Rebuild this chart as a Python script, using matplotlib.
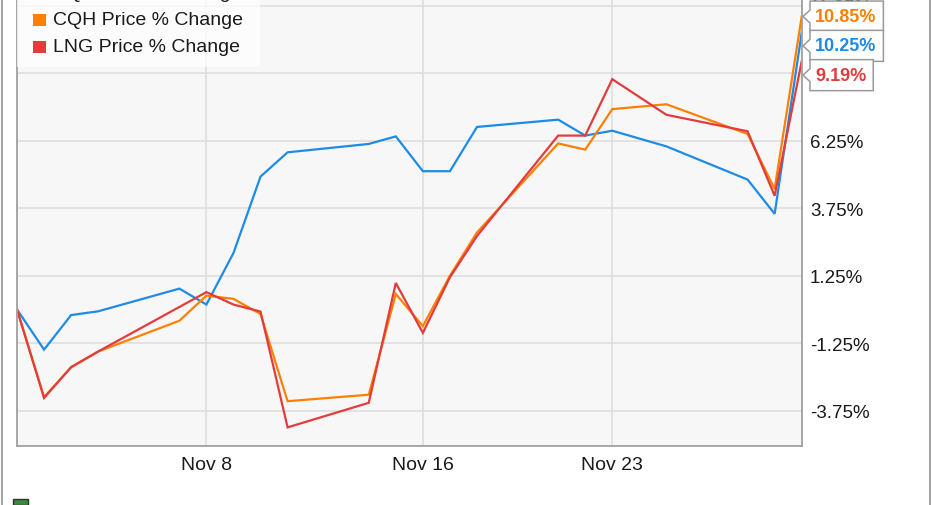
"""
Price % change of CQP, CQH and LNG over November 2016.
"""

import datetime as dt
import matplotlib.pyplot as plt
import matplotlib.dates as mdates
from matplotlib.path import Path
from matplotlib.patches import Rectangle
from matplotlib.lines import Line2D

# ###########################################################
# Data
# ###########################################################

days = [1, 2, 3, 4, 7, 8, 9, 10, 11, 14, 15, 16, 17, 18, 21, 22, 23, 25, 28, 29, 30]
dates = [dt.date(2016, 11, d) for d in days]

cqp = [0.00, -1.49, -0.21, -0.07, 0.77, 0.18, 2.09, 4.92, 5.82, 6.13, 6.41,
       5.12, 5.12, 6.76, 7.03, 6.44, 6.62, 6.04, 4.81, 3.54, 10.25]
cqh = [0.00, -3.25, -2.14, -1.56, -0.42, 0.51, 0.39, -0.17, -3.40, -3.16, 0.57,
       -0.62, 1.25, 2.85, 6.15, 5.92, 7.42, 7.60, 6.50, 4.46, 10.85]
lng = [0.00, -3.28, -2.14, -1.56, 0.09, 0.64, 0.18, -0.08, -4.37, -3.46, 0.98,
       -0.87, 1.19, 2.72, 6.44, 6.44, 8.53, 7.21, 6.60, 4.21, 9.19]

labels = ["CQP Price % Change", "CQH Price % Change", "LNG Price % Change"]
colors = ["#1e8be6", "#ff8000", "#e23c3c"]
series = [cqp, cqh, lng]

yticks = [-3.75, -1.25, 1.25, 3.75, 6.25, 8.75, 11.25]
xtick_dates = [dt.date(2016, 11, 8), dt.date(2016, 11, 16), dt.date(2016, 11, 23)]
xtick_labels = ["Nov 8", "Nov 16", "Nov 23"]

# ###########################################################
# Figure
# ###########################################################

W, H = 931, 506
plt.rcParams["font.family"] = ["Liberation Sans", "DejaVu Sans"]

fig = plt.figure(figsize=(W / 100, H / 100), dpi=100)
ax = fig.add_axes([17 / W, 59 / H, (801.7 - 17) / W, 1 - 59 / H])
ax.set_facecolor("#f7f7f7")

for vals, col in zip(series, colors):
    ax.plot(dates, vals, color=col, lw=1.6, solid_joinstyle="miter")

ax.set_xlim(dates[0], dates[-1])
ax.set_ylim(-5.06, 11.5)

# axes format
ax.yaxis.tick_right()
ax.set_yticks(yticks)
ax.set_yticklabels([f"{v:.2f}%" for v in yticks])
ax.set_xticks(xtick_dates)
ax.set_xticklabels(xtick_labels)
ax.tick_params(axis="y", length=0, pad=6, labelsize=13.5, colors="#1a1a1a")
ax.tick_params(axis="x", length=0, pad=7, labelsize=14, colors="#1a1a1a")
ax.grid(True, color="#dcdcdc", lw=1.1)
ax.set_axisbelow(True)
for side in ["left", "bottom", "right"]:
    ax.spines[side].set_color("#a0a0a0")
    ax.spines[side].set_linewidth(1.3)
ax.spines["top"].set_visible(False)

# ###########################################################
# Last value flags
# ###########################################################


def flag_box(x0, y0, width, height, mutation_size):
    pl, pr, pv, tip, half = 5, 7, 7, 12, 6.5
    x0, x1 = x0 - pl, x0 + width + pr
    y0, y1 = y0 - pv, y0 + height + pv
    yc = 0.5 * (y0 + y1)
    verts = [(x0, y0), (x1, y0), (x1, y1), (x0, y1), (x0, yc + half),
             (x0 - (tip - pl), yc), (x0, yc - half), (x0, y0)]
    return Path(verts, closed=True)


last_px = [ax.transData.transform((mdates.date2num(dates[-1]), s[-1]))[1] for s in series]
order = sorted(range(len(series)), key=lambda i: -series[i][-1])
prev = None
for i in order:
    ypx = last_px[i]
    if prev is not None:
        ypx = min(ypx, prev - 29.3)
    prev = ypx
    ax.annotate(f"{series[i][-1]:.2f}%", xy=(dates[-1], series[i][-1]),
                xytext=(13.3, ypx - last_px[i]), textcoords="offset pixels",
                ha="left", va="center", fontsize=13, fontweight="bold",
                color=colors[i], zorder=10, annotation_clip=False,
                bbox=dict(boxstyle=flag_box, fc="white", ec="#9a9a9a", lw=1.1))

# ###########################################################
# Legend (top rows clipped by the figure edge)
# ###########################################################

fig.add_artist(Rectangle((17 / W, 1 - 68 / H), 243 / W, 68 / H,
                         transform=fig.transFigure, fc="white", ec="none",
                         alpha=0.7, zorder=5))
for k, (lab, col) in enumerate(zip(labels, colors)):
    yc = -6.6 + 27.3 * k
    fig.add_artist(Rectangle((33 / W, 1 - (yc + 6.3) / H), 12.5 / W, 12.5 / H,
                             transform=fig.transFigure, fc=col, ec="none", zorder=6))
    fig.text(53 / W, 1 - yc / H, lab, fontsize=14, color="#1a1a1a",
             va="center", ha="left", zorder=6)

# outer frame lines
fig.add_artist(Line2D([1.5 / W, 1.5 / W], [0, 1], transform=fig.transFigure,
                      color="#9a9a9a", lw=1.3))
fig.add_artist(Line2D([929.5 / W, 929.5 / W], [0, 1], transform=fig.transFigure,
                      color="#9a9a9a", lw=1.3))

# small logo at the bottom edge
fig.add_artist(Rectangle((13 / W, 0), 15 / W, 6 / H, transform=fig.transFigure,
                         fc="#3c8a3c", ec="#333333", lw=1.0))

fig.savefig("out.png", dpi=100)
